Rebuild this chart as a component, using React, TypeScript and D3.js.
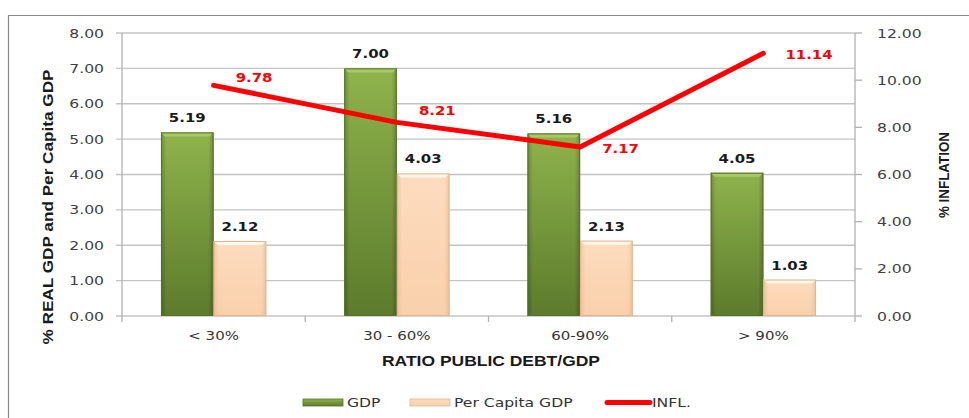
import React from "react";
import * as d3 from "d3";

const categories = ["< 30%", "30 - 60%", "60-90%", "> 90%"];
const gdp = [5.19, 7.0, 5.16, 4.05];
const perCapita = [2.12, 4.03, 2.13, 1.03];
const inflation = [9.78, 8.21, 7.17, 11.14];
const leftTicks = [0, 1, 2, 3, 4, 5, 6, 7, 8];
const rightTicks = [0, 2, 4, 6, 8, 10, 12];
const seriesNames = ["GDP", "Per Capita GDP"];

const W = 969;
const H = 418;
const PL = 122;
const PR = 855;
const PT = 33;
const PB = 316;
const SX = 1.2;
const FONT = "'DejaVu Sans', Verdana, sans-serif";
const TITLE_FONT = "'Liberation Sans Narrow', 'Liberation Sans', Arial, sans-serif";

function SText(props: any) {
  const { x, y, sx = SX, children, rotate = 0, ...rest } = props;
  return (
    <text transform={`translate(${x},${y}) rotate(${rotate}) scale(${sx},1)`} {...rest}>
      {children}
    </text>
  );
}

function Bar({ x, y, w, h, kind }: any) {
  if (h <= 0) return null;
  const bev = 4;
  if (kind === 0) {
    return (
      <g>
        <rect x={x} y={y} width={w} height={h} fill="url(#gdpV)" />
        <rect x={x} y={y} width={w} height={h} fill="url(#edgeH)" />
        <polygon points={`${x},${y} ${x + w},${y} ${x + w - bev},${y + bev} ${x + bev},${y + bev}`} fill="#a8c96a" />
        <rect x={x + 0.5} y={y + 0.5} width={w - 1} height={h - 1} fill="none" stroke="#56722a" strokeWidth={1} />
      </g>
    );
  }
  return (
    <g>
      <rect x={x} y={y} width={w} height={h} fill="url(#pcV)" />
      <rect x={x} y={y} width={w} height={h} fill="url(#edgeH2)" />
      <polygon points={`${x},${y} ${x + w},${y} ${x + w - bev},${y + bev} ${x + bev},${y + bev}`} fill="#fff6ec" />
      <rect x={x + 0.5} y={y + 0.5} width={w - 1} height={h - 1} fill="none" stroke="#e2b790" strokeWidth={1} />
    </g>
  );
}

export default function App() {
  const x = d3.scaleBand<string>().domain(categories).range([PL, PR]).padding(0);
  const xs = d3
    .scaleBand<string>()
    .domain(seriesNames)
    .range([0, x.bandwidth()])
    .paddingInner(0)
    .paddingOuter(0.74);
  const yL = d3.scaleLinear().domain([0, 8]).range([PB, PT]);
  const yR = d3.scaleLinear().domain([0, 12]).range([PB, PT]);

  const line = d3
    .line<number>()
    .x((_, i) => (x(categories[i]) as number) + x.bandwidth() / 2)
    .y((d) => yR(d));

  const inflLabelDy = [-8, -12, 1, 1];
  const series = [gdp, perCapita];
  const boundaries = d3.range(categories.length + 1).map((i) => PL + i * x.step());

  return (
    <svg
      width={W}
      height={H}
      style={{ position: "absolute", left: 0, top: 0, background: "#fff" }}
      fontFamily={FONT}
    >
      <defs>
        <linearGradient id="gdpV" x1="0" y1="0" x2="0" y2="1">
          <stop offset="0" stopColor="#8fb34c" />
          <stop offset="1" stopColor="#5c7b2c" />
        </linearGradient>
        <linearGradient id="edgeH" x1="0" y1="0" x2="1" y2="0">
          <stop offset="0" stopColor="#000" stopOpacity="0.22" />
          <stop offset="0.1" stopColor="#000" stopOpacity="0" />
          <stop offset="0.9" stopColor="#000" stopOpacity="0" />
          <stop offset="1" stopColor="#000" stopOpacity="0.22" />
        </linearGradient>
        <linearGradient id="pcV" x1="0" y1="0" x2="0" y2="1">
          <stop offset="0" stopColor="#fddcbf" />
          <stop offset="1" stopColor="#f9d0ab" />
        </linearGradient>
        <linearGradient id="edgeH2" x1="0" y1="0" x2="1" y2="0">
          <stop offset="0" stopColor="#c98a50" stopOpacity="0.25" />
          <stop offset="0.1" stopColor="#c98a50" stopOpacity="0" />
          <stop offset="0.9" stopColor="#c98a50" stopOpacity="0" />
          <stop offset="1" stopColor="#c98a50" stopOpacity="0.25" />
        </linearGradient>
      </defs>

      <path d={`M8.5,${H} V15.5 H${W}`} fill="none" stroke="#8a8a8a" strokeWidth={1.2} />

      {/* gridlines */}
      {leftTicks.map((t) => (
        <line key={"g" + t} x1={PL - 6} x2={PR} y1={yL(t)} y2={yL(t)} stroke="#c4c4c4" strokeWidth={1.3} />
      ))}

      {/* axes */}
      <line x1={PL} x2={PL} y1={PT} y2={PB + 6} stroke="#b0b0b0" strokeWidth={1.3} />
      <line x1={PR} x2={PR} y1={PT} y2={PB + 6} stroke="#b0b0b0" strokeWidth={1.3} />
      {boundaries.slice(1, -1).map((b, i) => (
        <line key={"xb" + i} x1={b} x2={b} y1={PB} y2={PB + 6} stroke="#b0b0b0" strokeWidth={1.3} />
      ))}
      {rightTicks.map((t) => (
        <line key={"rt" + t} x1={PR} x2={PR + 7} y1={yR(t)} y2={yR(t)} stroke="#b0b0b0" strokeWidth={1.3} />
      ))}

      {/* left tick labels */}
      {leftTicks.map((t) => (
        <SText key={"lt" + t} x={104} y={yL(t) + 4.5} textAnchor="end" fontSize={13} fill="#404040">
          {t.toFixed(2)}
        </SText>
      ))}
      {rightTicks.map((t) => (
        <SText key={"rl" + t} x={877} y={yR(t) + 4.5} textAnchor="start" fontSize={13} fill="#404040">
          {t.toFixed(2)}
        </SText>
      ))}

      {/* bars */}
      {categories.map((c, ci) =>
        series.map((s, si) => {
          const bx = (x(c) as number) + (xs(seriesNames[si]) as number);
          const by = yL(s[ci]);
          return (
            <g key={c + si}>
              <Bar x={bx} y={by} w={xs.bandwidth()} h={PB - by} kind={si} />
              <SText
                x={bx + xs.bandwidth() / 2}
                y={by - 10}
                textAnchor="middle"
                fontSize={13}
                fontWeight="bold"
                fill="#1a1a1a"
                sx={1.15}
              >
                {s[ci].toFixed(2)}
              </SText>
            </g>
          );
        })
      )}

      {/* inflation line */}
      <path d={line(inflation) || ""} fill="none" stroke="#ff0000" strokeWidth={5} strokeLinecap="round" strokeLinejoin="round" />
      {inflation.map((v, i) => (
        <SText
          key={"il" + i}
          x={(x(categories[i]) as number) + x.bandwidth() / 2 + 22}
          y={yR(v) + inflLabelDy[i] + 5}
          textAnchor="start"
          fontSize={13}
          fontWeight="bold"
          fill="#ff0000"
          sx={1.15}
        >
          {v.toFixed(2)}
        </SText>
      ))}

      {/* category labels */}
      {categories.map((c) => (
        <SText key={"cl" + c} x={(x(c) as number) + x.bandwidth() / 2} y={340} textAnchor="middle" fontSize={12.5} fill="#333">
          {c}
        </SText>
      ))}

      {/* axis titles */}
      <text
        x={491}
        y={366}
        textAnchor="middle"
        fontFamily={TITLE_FONT}
        fontWeight="bold"
        fontSize={15}
        fill="#1a1a1a"
        textLength={218}
        lengthAdjust="spacingAndGlyphs"
      >
        RATIO PUBLIC DEBT/GDP
      </text>
      <text
        transform={`translate(53,207) rotate(-90)`}
        textAnchor="middle"
        fontFamily={TITLE_FONT}
        fontWeight="bold"
        fontSize={15}
        fill="#1a1a1a"
        textLength={275}
        lengthAdjust="spacingAndGlyphs"
      >
        % REAL GDP and Per Capita GDP
      </text>
      <text
        transform={`translate(949,175) rotate(-90)`}
        textAnchor="middle"
        fontFamily={TITLE_FONT}
        fontWeight="bold"
        fontSize={15}
        fill="#1a1a1a"
        textLength={86}
        lengthAdjust="spacingAndGlyphs"
      >
        % INFLATION
      </text>

      {/* legend */}
      <g>
        <rect x={303} y={399} width={40} height={7} fill="url(#gdpV)" stroke="#56722a" strokeWidth={0.8} />
        <SText x={347} y={407} fontSize={13} fill="#333">{seriesNames[0]}</SText>
        <rect x={410} y={399} width={40} height={7} fill="url(#pcV)" stroke="#e2b790" strokeWidth={0.8} />
        <SText x={454} y={407} fontSize={13} fill="#333">{seriesNames[1]}</SText>
        <line x1={607} x2={650} y1={402.5} y2={402.5} stroke="#ff0000" strokeWidth={5} strokeLinecap="round" />
        <SText x={652} y={407} fontSize={13} fill="#333">INFL.</SText>
      </g>
    </svg>
  );
}
